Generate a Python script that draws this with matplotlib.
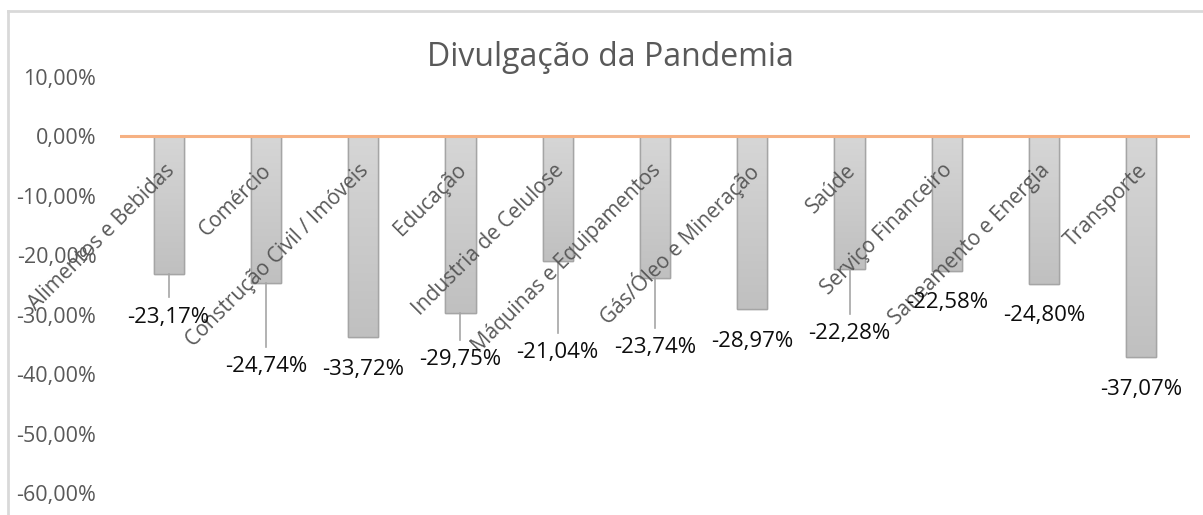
import numpy as np
import matplotlib
matplotlib.use('Agg')
import matplotlib.pyplot as plt
from matplotlib.colors import LinearSegmentedColormap
from matplotlib.patches import Rectangle
from matplotlib.lines import Line2D

plt.rcParams['font.family'] = ['Open Sans', 'DejaVu Sans']

# data
setores = ['Alimentos e Bebidas', 'Comércio', 'Construção Civil / Imóveis',
           'Educação', 'Industria de Celulose', 'Máquinas e Equipamentos',
           'Gás/Óleo e Mineração', 'Saúde', 'Serviço Financeiro',
           'Saneamento e Energia', 'Transporte']
variacao = [-23.17, -24.74, -33.72, -29.75, -21.04, -23.74,
            -28.97, -22.28, -22.58, -24.80, -37.07]
yticks = [10, 0, -10, -20, -30, -40, -50, -60]

# where Excel put the data labels (centre, in %)
label_y = [-30.4, -38.7, -39.3, -37.5, -36.3, -35.6,
           -34.5, -33.1, -27.9, -30.1, -42.5]


def pct(v):
    return ('%.2f%%' % v).replace('.', ',')


W, H = 1203, 515
fig = plt.figure(figsize=(W / 100, H / 100), dpi=100)
ax = fig.add_axes([120 / W, (H - 493) / H, 1070 / W, 416 / H])

x = np.arange(len(setores))
bw = 0.31
bars = ax.bar(x, variacao, width=bw, color='#cfcfcf', edgecolor='#a5a5a5',
              linewidth=1.0, zorder=2)

# gradient fill inside each bar
cmap = LinearSegmentedColormap.from_list('g', ['#d6d6d6', '#c0c0c0'])
grad = np.linspace(0, 1, 100).reshape(-1, 1)
for b in bars:
    im = ax.imshow(grad, cmap=cmap, aspect='auto', zorder=2.1,
                   extent=[b.get_x(), b.get_x() + b.get_width(),
                           b.get_y() + b.get_height(), b.get_y()],
                   origin='upper')
    im.set_clip_path(b)
    ax.add_patch(Rectangle((b.get_x(), b.get_y()), b.get_width(), b.get_height(),
                           fill=False, edgecolor='#a5a5a5', linewidth=1.0, zorder=2.2))

ax.axhline(0, color='#f6b183', linewidth=2.2, zorder=3)

ax.set_xlim(-0.5, len(setores) - 0.5)
ax.set_ylim(-60, 10)
ax.set_yticks(yticks)
ax.set_yticklabels([pct(t) for t in yticks])
ax.tick_params(axis='y', length=0, pad=17, labelsize=15.5, labelcolor='#595959')
ax.set_xticks([])
for s in ax.spines.values():
    s.set_visible(False)

# category labels, rotated, hanging from the zero line
for i, nome in enumerate(setores):
    ax.text(i + 0.03, -5.2, nome, rotation=45, rotation_mode='anchor',
            ha='right', va='center', fontsize=15, color='#595959', zorder=4)

# data labels with leader lines
for i, (v, ly) in enumerate(zip(variacao, label_y)):
    ax.text(i, ly, pct(v), ha='center', va='center', fontsize=16,
            color='#0d0d0d', zorder=5)
    if v - ly > 6.0:
        ax.plot([i, i], [v, ly + 3.3], color='#a5a5a5', linewidth=1.2, zorder=3)

fig.text(610 / W, 1 - 58 / H, 'Divulgação da Pandemia', ha='center', va='center',
         fontsize=23, color='#595959')

# chart-area frame (only top and left edges are inside the picture)
fig.add_artist(Line2D([8 / W, 1], [1 - 11 / H, 1 - 11 / H], color='#d9d9d9',
                      linewidth=2, transform=fig.transFigure))
fig.add_artist(Line2D([8 / W, 8 / W], [0, 1 - 11 / H], color='#d9d9d9',
                      linewidth=2, transform=fig.transFigure))

fig.savefig('out.png', dpi=100, facecolor='white')
